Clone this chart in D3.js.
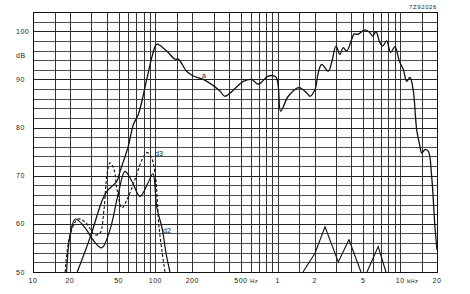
<!DOCTYPE html>
<html>
<head>
<meta charset="utf-8">
<script src="https://cdn.jsdelivr.net/npm/d3@7"></script>
<style>
  body { margin: 0; background: #fff; }
  text { font-family: "Liberation Sans", Arial, sans-serif; fill: #222; }
</style>
</head>
<body>
<div id="chart-area"></div>
<script>
// Curve a: overall response (Hz, dB)
const curveA = [[23,50],[29.5,57.4],[36.4,64.6],[40,66.7],[48.3,68.8],[51.4,70.9],[60,76.1],[66,80.6],
  [72.5,82.7],[85,90],[95,95.2],[102.5,97.3],[123.6,95.9],[144.5,94.2],[153.8,94.2],[180,91.7],
  [204,90.7],[246,90],[337,87.6],[370,86.5],[523,89.6],[612,90],[693,89],[836,90.7],[966,90.5],
  [1009,88.6],[1056,83.4],[1218,86.5],[1490,88.3],[1722,87.2],[1833,86.5],[2014,87.9],[2143,91.4],
  [2285,93.1],[2587,91.7],[2757,93.5],[2990,96.9],[3222,95.2],[3428,96.6],[3655,95.9],[4017,98.3],
  [4196,99.4],[4546,99.4],[5157,100.3],[5663,99.7],[5960,99.0],[6340,99.9],[6837,97.6],[7194,96.9],
  [7756,98.0],[8365,95.6],[9071,96.8],[9840,93.8],[10600,92.1],[11300,89.6],[12020,90.4],
  [12800,87.6],[13640,79.6],[14520,76.1],[14990,74.7],[15960,75.4],[16980,75.1],[18080,69.9],
  [19240,59.4],[20000,54.6]];

// d2: 2nd harmonic distortion (solid)
const curveD2 = [[18.8,50],[20.1,57.7],[22.2,61],[26.6,59.2],[30.9,56.7],[36.4,55],[42.6,58.8],
  [49.5,66],[56.5,70.9],[64.4,68.8],[74.9,65.7],[87,68.5],[95.5,70.4],[102.5,63.6],[114,58.8],
  [122,54],[131.5,50]];

// d3: 3rd harmonic distortion (dashed)
const curveD3 = [[18.3,50],[20.1,57.7],[23.3,61],[26.6,60.4],[32.1,57.7],[35.3,58.1],[38,62.9],
  [40.2,70.2],[42.6,72.7],[45.9,71.3],[48.6,67.1],[53.3,63.3],[58.6,65],[68.1,69.2],[77.8,73.3],
  [85.4,74.8],[92,74],[99.3,70.6],[107.6,58.8],[119.8,50]];

// high frequency distortion pieces
const curveHf1 = [[1607,50],[2014,53.9],[2432,59.4],[3121,52.1],[3818,56.7],[4786,50]];
const curveHf2 = [[5355,50],[6620,55.3],[7652,50]];

// tick labels
const xTicks = [10, 20, 50, 100, 200, 500, 1000, 2000, 5000, 10000, 20000];
const xTickText = ["10", "20", "50", "100", "200", "500", "1", "2", "5", "10", "20"];
const xTickUnit = {500: "Hz", 10000: "kHz"};
const yTicks = [100, 90, 80, 70, 60, 50];

const W = 470, H = 294;
const margin = { left: 33, right: 437, top: 12, bottom: 272 };

const svg = d3.select("#chart-area").append("svg")
    .attr("width", W)
    .attr("height", H);

const x = d3.scaleLog().domain([10, 20000]).range([margin.left, margin.right]);
const y = d3.scaleLinear().domain([50, 104]).range([margin.bottom, margin.top]);

// grid
const vGrid = [];
[10, 100, 1000].forEach(dec => {
    [1, 1.5, 2, 3, 4, 5, 6, 7, 8, 9].forEach(m => vGrid.push(dec * m));
});
vGrid.push(10000, 15000, 20000);
const hGrid = d3.range(50, 105, 2);

const grid = svg.append("g").attr("shape-rendering", "crispEdges");
grid.selectAll(".hg").data(hGrid).enter().append("line")
    .attr("x1", margin.left).attr("x2", margin.right)
    .attr("y1", d => Math.round(y(d)) + 0.5).attr("y2", d => Math.round(y(d)) + 0.5)
    .attr("stroke", d => (d % 10 == 0) ? "#222" : "#4a4a4a")
    .attr("stroke-width", 1);
grid.selectAll(".vg").data(vGrid).enter().append("line")
    .attr("y1", margin.top).attr("y2", margin.bottom)
    .attr("x1", d => Math.round(x(d)) + 0.5).attr("x2", d => Math.round(x(d)) + 0.5)
    .attr("stroke", "#333")
    .attr("stroke-width", 1);

// y labels
svg.selectAll(".yl").data(yTicks).enter().append("text")
    .attr("x", 16)
    .attr("y", d => y(d) + 2.5)
    .attr("font-size", 7)
    .attr("fill", "#222")
    .style("letter-spacing", "0.5px")
    .text(d => d);
svg.append("text")
    .attr("x", 16).attr("y", y(95) + 2.5)
    .attr("font-size", 7)
    .attr("fill", "#222")
    .style("letter-spacing", "0.5px")
    .text("dB");

// x labels
xTicks.forEach((f, i) => {
    const t = svg.append("text")
        .attr("x", x(f))
        .attr("y", 283)
        .attr("font-size", 7)
        .attr("fill", "#222")
        .attr("text-anchor", "middle")
        .style("letter-spacing", "0.5px")
        .text(xTickText[i]);
    if (xTickUnit[f]) {
        const w = t.node().getComputedTextLength();
        svg.append("text")
            .attr("x", x(f) + w / 2 + 2.5)
            .attr("y", 283)
            .attr("font-size", 6)
            .attr("fill", "#222")
            .style("letter-spacing", "0.3px")
            .text(xTickUnit[f]);
    }
});

svg.append("text")
    .attr("x", margin.right).attr("y", 9)
    .attr("font-size", 6)
    .attr("fill", "#222")
    .attr("text-anchor", "end")
    .style("letter-spacing", "0.6px")
    .text("7Z92026");

// curves
const line = d3.line()
    .x(d => x(d[0]))
    .y(d => y(d[1]))
    .curve(d3.curveCatmullRom.alpha(0.5));
const lineLin = d3.line()
    .x(d => x(d[0]))
    .y(d => y(d[1]));

svg.append("path").attr("d", line(curveA))
    .attr("fill", "none").attr("stroke", "#111").attr("stroke-width", 1.3);
svg.append("path").attr("d", line(curveD2))
    .attr("fill", "none").attr("stroke", "#111").attr("stroke-width", 1.2);
svg.append("path").attr("d", line(curveD3))
    .attr("fill", "none").attr("stroke", "#111").attr("stroke-width", 1.1)
    .attr("stroke-dasharray", "3,2");
[curveHf1, curveHf2].forEach(c => {
    svg.append("path").attr("d", lineLin(c))
        .attr("fill", "none").attr("stroke", "#111").attr("stroke-width", 1.1);
});

// border
svg.append("rect")
    .attr("x", margin.left + 0.5).attr("y", margin.top + 0.5)
    .attr("width", margin.right - margin.left).attr("height", margin.bottom - margin.top)
    .attr("fill", "none").attr("stroke", "#111").attr("stroke-width", 1)
    .attr("shape-rendering", "crispEdges");

// curve labels
svg.append("text").attr("x", 202).attr("y", 78).attr("font-size", 7).attr("fill", "#222").text("a");
svg.append("text").attr("x", 155).attr("y", 156).attr("font-size", 7).attr("fill", "#222").text("d3");
svg.append("text").attr("x", 163).attr("y", 233).attr("font-size", 7).attr("fill", "#222").text("d2");
</script>
</body>
</html>
